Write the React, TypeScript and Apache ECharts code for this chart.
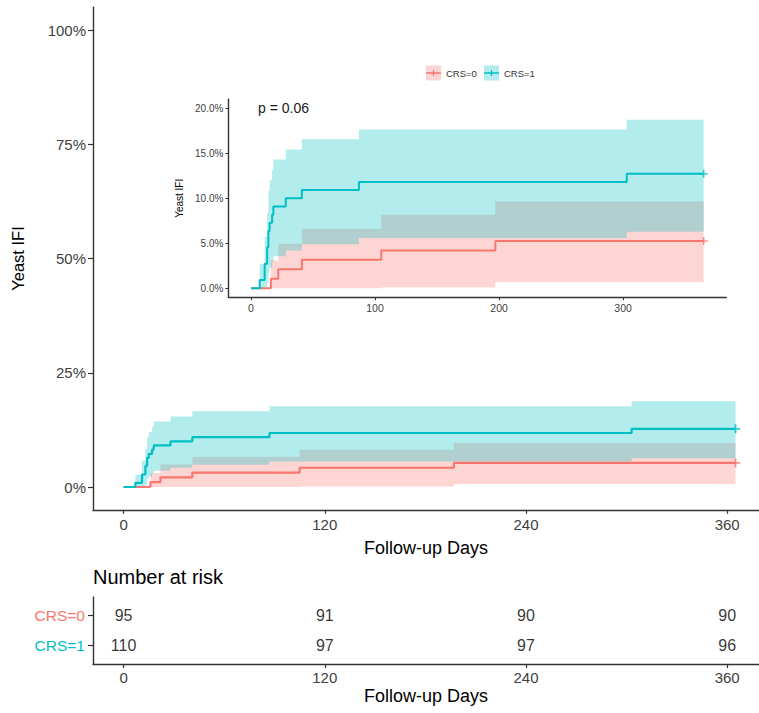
import React, { useEffect, useRef } from 'react';
import * as echarts from 'echarts';

// CRS=0 (cumulative incidence, %)
const times0 = [0, 16, 22, 41, 105, 197, 365];
const est0 = [0, 1.05, 2.11, 3.16, 4.21, 5.26, 5.26];
const low0 = [0, 0, 0, 0, 0.09, 0.66, 0.66];
const up0 = [0, 3.08, 4.95, 6.61, 8.17, 9.65, 9.65];

// CRS=1
const times1 = [0, 7, 11, 13, 14, 15, 17, 18, 28, 41, 87, 303, 365];
const est1 = [0, 0.91, 2.73, 4.55, 6.36, 7.27, 8.18, 9.09, 10.0, 10.91, 11.82, 12.73, 12.73];
const low1 = [0, 0, 0, 0.57, 1.69, 2.3, 2.92, 3.55, 4.21, 4.89, 5.58, 6.27, 6.27];
const up1 = [0, 2.67, 5.72, 8.36, 10.82, 12.0, 13.16, 14.31, 15.43, 16.55, 17.65, 18.74, 18.74];

const groups = ['CRS=0', 'CRS=1'];
const riskTimes = [0, 120, 240, 360];
const risk0 = [95, 91, 90, 90];
const risk1 = [110, 97, 97, 96];

const mainXTicks = [0, 120, 240, 360];
const mainYTicks = [0, 25, 50, 75, 100];
const insetXTicks = [0, 100, 200, 300];
const insetYTicks = [0, 5, 10, 15, 20];
const pValue = 'p = 0.06';

const PINK = '#F8766D';
const TEAL = '#00BFC4';
const PINK_BAND = 'rgba(248,118,109,0.3)';
const TEAL_BAND = 'rgba(0,191,196,0.3)';
const FONT = 'Liberation Sans, Arial, Helvetica, sans-serif';
const AXIS_COLOR = '#333333';
const TICK_TEXT = '#404040';

const PLUS = 'path://M4,0H6V4H10V6H6V10H4V6H0V4H4Z';

function pairs(t: number[], v: number[]) {
  return t.map((x, i) => [x, v[i]]);
}

function bandSeries(gi: number, t: number[], lo: number[], hi: number[], color: string) {
  return {
    type: 'custom', xAxisIndex: gi, yAxisIndex: gi, silent: true, z: 1,
    data: [[t[0], lo[0]]],
    renderItem: (params: any, api: any) => {
      const pts: number[][] = [];
      for (let i = 0; i < t.length - 1; i++) {
        pts.push(api.coord([t[i], hi[i]]));
        pts.push(api.coord([t[i + 1], hi[i]]));
      }
      for (let i = t.length - 2; i >= 0; i--) {
        pts.push(api.coord([t[i + 1], lo[i]]));
        pts.push(api.coord([t[i], lo[i]]));
      }
      return { type: 'polygon', shape: { points: pts }, style: { fill: color } };
    },
  };
}

function kmSeries(gi: number, lw: number, ms: number) {
  const sets = [
    { name: groups[0], t: times0, e: est0, lo: low0, hi: up0, c: PINK, b: PINK_BAND },
    { name: groups[1], t: times1, e: est1, lo: low1, hi: up1, c: TEAL, b: TEAL_BAND },
  ];
  const out: any[] = [];
  sets.forEach((s) => out.push(bandSeries(gi, s.t, s.lo, s.hi, s.b)));
  sets.forEach((s, k) => {
    out.push({
      type: 'line', name: s.name, xAxisIndex: gi, yAxisIndex: gi,
      data: pairs(s.t, s.e), step: 'end', symbol: 'none', silent: true,
      lineStyle: { color: s.c, width: lw }, itemStyle: { color: s.c }, z: 3 + k,
    });
  });
  sets.forEach((s, k) => {
    const n = s.t.length - 1;
    out.push({
      type: 'scatter', xAxisIndex: gi, yAxisIndex: gi,
      data: [[s.t[n], s.e[n]]], symbol: PLUS, symbolSize: ms, silent: true,
      itemStyle: { color: s.c }, z: 6 + k,
    });
  });
  return out;
}

function valueAxis(extra: any) {
  return {
    type: 'value',
    splitLine: { show: false },
    axisLine: { show: true, onZero: false, lineStyle: { color: AXIS_COLOR, width: 1.4 } },
    ...extra,
  };
}

export default function App() {
  const ref = useRef<HTMLDivElement>(null);
  useEffect(() => {
    if (!ref.current) return;
    const chart = echarts.init(ref.current, undefined, { renderer: 'svg' });
    const riskData0 = riskTimes.map((t, i) => [t, 2, risk0[i]]);
    const riskData1 = riskTimes.map((t, i) => [t, 1, risk1[i]]);
    const option: any = {
      animation: false,
      backgroundColor: '#ffffff',
      textStyle: { fontFamily: FONT },
      title: [
        { text: 'Number at risk', left: 93, top: 567, padding: 0,
          textStyle: { fontSize: 20, fontWeight: 'normal', color: '#000', fontFamily: FONT } },
        { text: pValue, left: 258, top: 101, padding: 0,
          textStyle: { fontSize: 14, fontWeight: 'normal', color: '#1a1a1a', fontFamily: FONT } },
      ],
      grid: [
        { left: 93, top: 7.15, width: 666, height: 502.7 },
        { left: 228.4, top: 99.3, width: 497.9, height: 198 },
        { left: 93, top: 597, width: 666, height: 67 },
      ],
      xAxis: [
        valueAxis({
          gridIndex: 0, min: -18.25, max: 379,
          axisTick: { show: true, customValues: mainXTicks, length: 4, lineStyle: { color: AXIS_COLOR, width: 1.2 } },
          axisLabel: { customValues: mainXTicks, fontSize: 15, color: TICK_TEXT, margin: 7 },
          name: 'Follow-up Days', nameLocation: 'middle', nameGap: 29,
          nameTextStyle: { fontSize: 18, color: '#000' },
        }),
        valueAxis({
          gridIndex: 1, min: -18.25, max: 383.25,
          axisTick: { show: true, customValues: insetXTicks, length: 3, lineStyle: { color: AXIS_COLOR, width: 1 } },
          axisLabel: { customValues: insetXTicks, fontSize: 10.5, color: TICK_TEXT, margin: 5 },
        }),
        valueAxis({
          gridIndex: 2, min: -18.25, max: 379,
          axisTick: { show: true, customValues: mainXTicks, length: 4, lineStyle: { color: AXIS_COLOR, width: 1.2 } },
          axisLabel: { customValues: mainXTicks, fontSize: 15, color: TICK_TEXT, margin: 6 },
          name: 'Follow-up Days', nameLocation: 'middle', nameGap: 23,
          nameTextStyle: { fontSize: 18, color: '#000' },
        }),
      ],
      yAxis: [
        valueAxis({
          gridIndex: 0, min: -5, max: 105,
          axisTick: { show: true, customValues: mainYTicks, length: 5, lineStyle: { color: AXIS_COLOR, width: 1.2 } },
          axisLabel: { customValues: mainYTicks, fontSize: 15, color: TICK_TEXT, margin: 7,
            formatter: (v: number) => v + '%' },
          name: 'Yeast IFI', nameLocation: 'middle', nameGap: 67,
          nameTextStyle: { fontSize: 16.5, color: '#000' },
        }),
        valueAxis({
          gridIndex: 1, min: -1, max: 21,
          axisTick: { show: true, customValues: insetYTicks, length: 3, lineStyle: { color: AXIS_COLOR, width: 1 } },
          axisLabel: { customValues: insetYTicks, fontSize: 10, color: TICK_TEXT, margin: 5,
            formatter: (v: number) => v.toFixed(1) + '%' },
          name: 'Yeast IFI', nameLocation: 'middle', nameGap: 43,
          nameTextStyle: { fontSize: 10, color: '#000' },
        }),
        valueAxis({
          gridIndex: 2, min: 0.4, max: 2.6,
          axisTick: { show: true, customValues: [1, 2], length: 5, lineStyle: { color: AXIS_COLOR, width: 1.2 } },
          axisLabel: {
            customValues: [1, 2], margin: 8,
            formatter: (v: number) => (v === 2 ? '{a|' + groups[0] + '}' : '{b|' + groups[1] + '}'),
            rich: {
              a: { color: PINK, fontSize: 15.5, fontFamily: FONT },
              b: { color: TEAL, fontSize: 15.5, fontFamily: FONT },
            },
          },
        }),
      ],
      series: [
        ...kmSeries(0, 2.2, 9),
        ...kmSeries(1, 2, 8),
        {
          type: 'scatter', xAxisIndex: 2, yAxisIndex: 2, data: riskData0, symbolSize: 1,
          itemStyle: { color: 'rgba(0,0,0,0)' }, silent: true,
          label: { show: true, position: 'inside', formatter: (p: any) => String(p.value[2]), fontSize: 16, color: '#000' },
        },
        {
          type: 'scatter', xAxisIndex: 2, yAxisIndex: 2, data: riskData1, symbolSize: 1,
          itemStyle: { color: 'rgba(0,0,0,0)' }, silent: true,
          label: { show: true, position: 'inside', formatter: (p: any) => String(p.value[2]), fontSize: 16, color: '#000' },
        },
      ],
      graphic: [
        { type: 'rect', shape: { x: 426, y: 65.5, width: 15, height: 15 }, style: { fill: PINK_BAND } },
        { type: 'line', shape: { x1: 426, y1: 73, x2: 441, y2: 73 }, style: { stroke: PINK, lineWidth: 1.5 } },
        { type: 'line', shape: { x1: 433.5, y1: 70, x2: 433.5, y2: 76 }, style: { stroke: PINK, lineWidth: 1.2 } },
        { type: 'text', x: 446, y: 73, style: { text: groups[0], fontSize: 9.5, fill: '#333', verticalAlign: 'middle', fontFamily: FONT } },
        { type: 'rect', shape: { x: 484, y: 65.5, width: 15, height: 15 }, style: { fill: TEAL_BAND } },
        { type: 'line', shape: { x1: 484, y1: 73, x2: 499, y2: 73 }, style: { stroke: TEAL, lineWidth: 1.5 } },
        { type: 'line', shape: { x1: 491.5, y1: 70, x2: 491.5, y2: 76 }, style: { stroke: TEAL, lineWidth: 1.2 } },
        { type: 'text', x: 504, y: 73, style: { text: groups[1], fontSize: 9.5, fill: '#333', verticalAlign: 'middle', fontFamily: FONT } },
      ],
    };
    chart.setOption(option);
    return () => chart.dispose();
  }, []);
  return <div ref={ref} style={{ position: 'absolute', left: 0, top: 0, width: 759, height: 713 }} />;
}
